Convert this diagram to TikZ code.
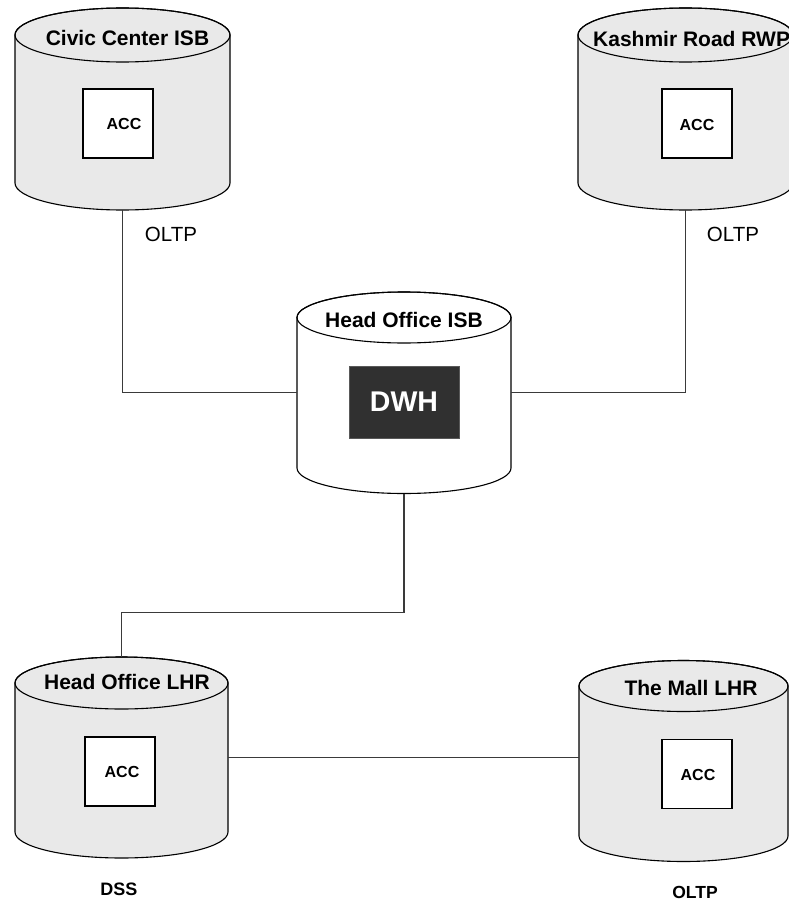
\documentclass[tikz,border=0pt]{standalone}
\usepackage{fontspec}
\setmainfont{Liberation Sans}
\definecolor{cylgray}{HTML}{E9E9E9}
\definecolor{linegray}{HTML}{3A3A3A}
\definecolor{dwhfill}{HTML}{303030}
\newcommand{\dbcyl}[7]{% cx, top ellipse yc, rx, ry, body bottom yb, fill, name
  \path[fill=#6,draw=black,line width=1.1pt]
    (#1-#3,#2) -- (#1-#3,#5)
    arc[start angle=180,end angle=360,x radius=#3pt,y radius=#4pt]
    -- (#1+#3,#2)
    arc[start angle=0,end angle=180,x radius=#3pt,y radius=#4pt] -- cycle;
  \draw[line width=1.1pt] (#1,#2) ellipse[x radius=#3pt,y radius=#4pt];
  \node[draw=none,inner sep=0pt,minimum width={2*#3pt},minimum height={(#5-#2+2*#4)*1pt}]
    (#7) at (#1,{(#2+#5)/2}) {};
}
\tikzset{
  accbox/.style={draw=black,line width=1.1pt,fill=white,minimum width=70pt,minimum height=69pt,inner sep=0pt},
  acctext/.style={inner sep=0pt,font=\fontsize{16}{18}\selectfont\bfseries},
  title/.style={inner sep=0pt,font=\fontsize{21}{24}\selectfont\bfseries},
  oltpreg/.style={inner sep=0pt,font=\fontsize{20.5}{24}\selectfont},
  bottomlabel/.style={inner sep=0pt,font=\fontsize{18}{21}\selectfont\bfseries},
  link/.style={draw=linegray,line width=1.1pt}
}
\begin{document}
\begin{tikzpicture}[x=1pt,y=-1pt]
\useasboundingbox (0,0) rectangle (789,902);
\fill[white] (0,0) rectangle (789,902);
\clip (0,0) rectangle (789,902);

% cylinders
\dbcyl{122.5}{35}{107.5}{27}{183}{cylgray}{civic}
\dbcyl{685.5}{35}{107.5}{27}{183}{cylgray}{kashmir}
\dbcyl{404}{317.5}{107}{25.5}{468}{white}{isb}
\dbcyl{121.5}{683}{106.5}{26}{832}{cylgray}{lhr}
\dbcyl{683.5}{686}{104.5}{25.5}{836}{cylgray}{mall}

% titles
\node[title] (tcivic) at (127.5,38) {Civic Center ISB};
\node[title,anchor=west] (tkashmir) at (593,38.5) {Kashmir Road RWP};
\node[title] (tisb) at (404,320) {Head Office ISB};
\node[title] (tlhr) at (127,682) {Head Office LHR};
\node[title] (tmall) at (691,687.5) {The Mall LHR};

% inner boxes
\node[accbox] (acc1) at (118,123.5) {};
\node[acctext] at (124,124) {ACC};
\node[accbox] (acc2) at (697,123.5) {};
\node[acctext] at (697,125) {ACC};
\node[accbox] (acc3) at (120,771.5) {};
\node[acctext] at (122,772) {ACC};
\node[accbox] (acc4) at (697,774) {};
\node[acctext] at (698,775) {ACC};
\node[draw=gray!70!black,line width=1pt,fill=dwhfill,minimum width=110pt,minimum height=72pt,inner sep=0pt,
      text=white,font=\fontsize{28.5}{32}\selectfont\bfseries] (dwh) at (404,402) {DWH};

% labels
\node[oltpreg] (o1) at (171,234) {OLTP};
\node[oltpreg] (o2) at (733,234) {OLTP};
\node[bottomlabel] (dss) at (119,889) {DSS};
\node[bottomlabel,font=\fontsize{17.5}{21}\selectfont\bfseries] (o3) at (695,892) {OLTP};

% connectors
\draw[link] (civic.south) |- (isb.west);
\draw[link] (kashmir.south) |- (isb.east);
\draw[link] (isb.south) -- ++(0,118.5) -| (lhr.north);
\draw[link] (lhr.east) -- (lhr.east -| mall.west);
\end{tikzpicture}
\end{document}
